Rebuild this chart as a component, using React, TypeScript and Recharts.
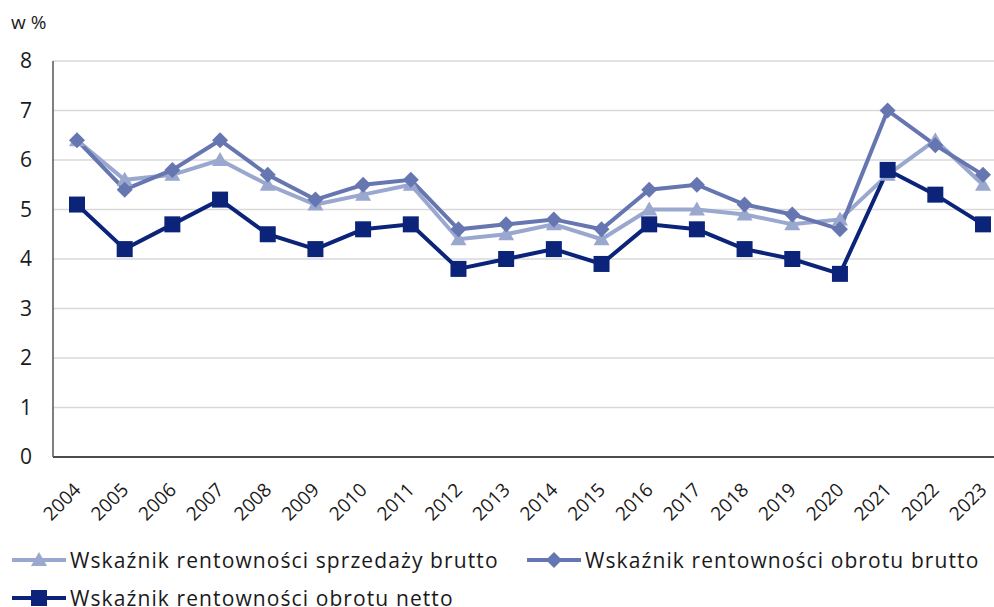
import React from 'react';
import { LineChart, Line, XAxis, YAxis, CartesianGrid, Legend } from 'recharts';

const years = ['2004','2005','2006','2007','2008','2009','2010','2011','2012','2013','2014','2015','2016','2017','2018','2019','2020','2021','2022','2023'];
const sprzedazyBrutto = [6.4,5.6,5.7,6.0,5.5,5.1,5.3,5.5,4.4,4.5,4.7,4.4,5.0,5.0,4.9,4.7,4.8,5.7,6.4,5.5];
const obrotuBrutto = [6.4,5.4,5.8,6.4,5.7,5.2,5.5,5.6,4.6,4.7,4.8,4.6,5.4,5.5,5.1,4.9,4.6,7.0,6.3,5.7];
const obrotuNetto = [5.1,4.2,4.7,5.2,4.5,4.2,4.6,4.7,3.8,4.0,4.2,3.9,4.7,4.6,4.2,4.0,3.7,5.8,5.3,4.7];
const yTicks = [0,1,2,3,4,5,6,7,8];

const series = [
  { key: 'a', name: 'Wskaźnik rentowności sprzedaży brutto', color: '#9AA7CF', shape: 'triangle' },
  { key: 'b', name: 'Wskaźnik rentowności obrotu brutto', color: '#6676B1', shape: 'diamond' },
  { key: 'c', name: 'Wskaźnik rentowności obrotu netto', color: '#0B2479', shape: 'square' },
];

const data = years.map((y, i) => ({ year: y, a: sprzedazyBrutto[i], b: obrotuBrutto[i], c: obrotuNetto[i] }));

const FONT = '"Open Sans", "Noto Sans", sans-serif';

function Marker({ cx, cy, shape, color }: any) {
  if (cx == null || cy == null) return null;
  if (shape === 'square') {
    const s = 8;
    return <rect x={cx - s} y={cy - s} width={2 * s} height={2 * s} fill={color} />;
  }
  if (shape === 'diamond') {
    const s = 8;
    return <polygon points={`${cx},${cy - s} ${cx + s},${cy} ${cx},${cy + s} ${cx - s},${cy}`} fill={color} />;
  }
  const s = 8;
  return <polygon points={`${cx},${cy - s} ${cx + s},${cy + s * 0.75} ${cx - s},${cy + s * 0.75}`} fill={color} />;
}

function LegendContent() {
  const item = (s: any, left: number, top: number) => (
    <div key={s.key} style={{ position: 'absolute', left, top, display: 'flex', alignItems: 'center', whiteSpace: 'nowrap' }}>
      <svg width={56} height={20} style={{ marginRight: 3 }}>
        <line x1={1} y1={10} x2={55} y2={10} stroke={s.color} strokeWidth={4} />
        <Marker cx={28} cy={10} shape={s.shape} color={s.color} />
      </svg>
      <span style={{ fontFamily: FONT, fontSize: 21, color: '#1a1a1a', letterSpacing: 1.1, lineHeight: '24px' }}>{s.name}</span>
    </div>
  );
  return (
    <div style={{ position: 'relative', width: 994, height: 75 }}>
      {item(series[0], 11, 16)}
      {item(series[1], 526, 16)}
      {item(series[2], 11, 54)}
    </div>
  );
}

const XTick = ({ x, y, payload }: any) => (
  <text x={x + 5} y={y + 26} textAnchor="end" transform={`rotate(-45 ${x + 5} ${y + 26})`} fontFamily={FONT} fontSize={19} fill="#1a1a1a">
    {payload.value}
  </text>
);

export default function App() {
  return (
    <div style={{ position: 'absolute', left: 0, top: 0, width: 994, height: 607, overflow: 'hidden', background: '#fff' }}>
      <div style={{ position: 'absolute', left: 11, top: 9, fontFamily: FONT, fontSize: 19, color: '#1a1a1a' }}>w %</div>
      <LineChart width={1007} height={607} data={data} margin={{ top: 61, right: 0, bottom: 0, left: 0 }}>
        <CartesianGrid vertical={false} stroke="#D9D9D9" strokeWidth={1.5} />
        <XAxis dataKey="year" height={75} tick={<XTick />} tickLine={false} padding={{ left: 24, right: 24 }}
          axisLine={{ stroke: '#1a1a1a', strokeWidth: 1.5 }} interval={0} />
        <YAxis domain={[0, 8]} ticks={yTicks} width={53} tickLine={false} tickSize={0} tickMargin={21}
          axisLine={{ stroke: '#555', strokeWidth: 1.5 }}
          tick={{ fontFamily: FONT, fontSize: 21, fill: '#1a1a1a' }} />
        <Legend verticalAlign="bottom" height={75} content={<LegendContent />} wrapperStyle={{ left: 0 }} />
        {series.map(s => (
          <Line key={s.key} dataKey={s.key} name={s.name} stroke={s.color} strokeWidth={4}
            isAnimationActive={false}
            dot={(p: any) => <Marker key={p.index} cx={p.cx} cy={p.cy} shape={s.shape} color={s.color} />}
            activeDot={false} />
        ))}
      </LineChart>
    </div>
  );
}
